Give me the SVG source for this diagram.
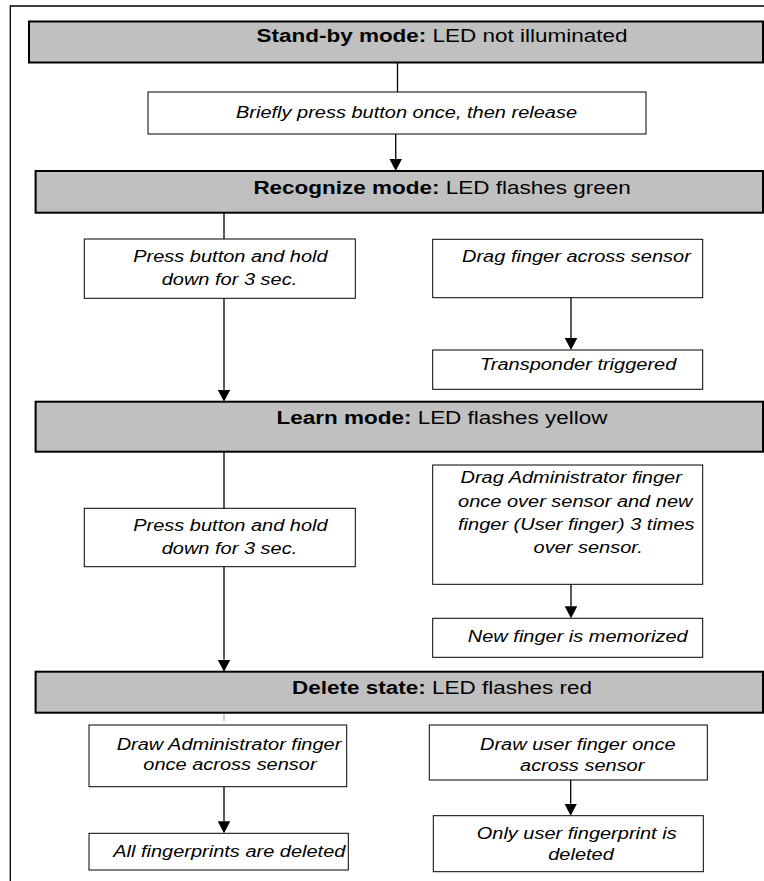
<svg xmlns="http://www.w3.org/2000/svg" width="764" height="881" viewBox="0 0 764 881">
<style>
.bg{fill:#ffffff}
.frame{fill:none;stroke:#000;stroke-width:1.3}
.hdr{fill:#c0c0c0;stroke:#000;stroke-width:2}
.box{fill:#ffffff;stroke:#000;stroke-width:1}
.conn{fill:none;stroke:#000;stroke-width:1.3}
.stub{fill:none;stroke:#999;stroke-width:1}
text{font-family:"Liberation Sans",Arial,Helvetica,sans-serif;fill:#000}
.h{font-size:18.5px}
.b{font-weight:bold}
.t{font-size:17px;font-style:italic}
</style>
<defs>
<marker id="ah" markerUnits="userSpaceOnUse" viewBox="0 0 12 12.5" markerWidth="12" markerHeight="12.5" refX="0" refY="6.25" orient="auto">
<path d="M0,0 L12,6.25 L0,12.5 Z" fill="#000"/>
</marker>
</defs>
<rect class="bg" x="0" y="0" width="764" height="881"/>
<path class="frame" d="M764,6 H10.3 V881"/>

<g id="connectors">
<line class="conn" x1="397.5" y1="62.5" x2="397.5" y2="92"/>
<line class="conn" x1="395.7" y1="134" x2="395.7" y2="159" marker-end="url(#ah)"/>
<line class="conn" x1="224" y1="212.7" x2="224" y2="239"/>
<line class="conn" x1="224" y1="298.3" x2="224" y2="389.7" marker-end="url(#ah)"/>
<line class="conn" x1="571" y1="297.7" x2="571" y2="338" marker-end="url(#ah)"/>
<line class="conn" x1="224" y1="451.7" x2="224" y2="508.3"/>
<line class="conn" x1="224" y1="566.7" x2="224" y2="659.7" marker-end="url(#ah)"/>
<line class="conn" x1="571" y1="584.3" x2="571" y2="606.3" marker-end="url(#ah)"/>
<line class="stub" x1="224" y1="714" x2="224" y2="721"/>
<line class="conn" x1="224" y1="786.7" x2="224" y2="821.3" marker-end="url(#ah)"/>
<line class="conn" x1="570.7" y1="780" x2="570.7" y2="803.7" marker-end="url(#ah)"/>
</g>

<g id="standby">
<rect class="hdr" x="29" y="21.5" width="734" height="41"/>
<text class="h" transform="scale(1.216,1)" x="363.5" y="42.3" text-anchor="middle"><tspan class="b">Stand-by mode:</tspan> LED not illuminated</text>
</g>
<g id="press-once">
<rect class="box" x="148" y="92" width="498" height="42"/>
<text class="t" transform="scale(1.176,1)" x="200.7" y="118.5">Briefly press button once, then release</text>
</g>
<g id="recognize">
<rect class="hdr" x="35.6" y="171" width="727.4" height="41.7"/>
<text class="h" transform="scale(1.216,1)" x="363.5" y="194" text-anchor="middle"><tspan class="b">Recognize mode:</tspan> LED flashes green</text>
</g>
<g id="press-hold-1">
<rect class="box" x="84.3" y="239" width="271" height="59.3"/>
<text class="t" transform="scale(1.176,1)" x="113.3" y="261.7">Press button and hold</text>
<text class="t" transform="scale(1.176,1)" x="137.5" y="285">down for 3 sec.</text>
</g>
<g id="drag-finger">
<rect class="box" x="432.7" y="239.3" width="270" height="58.4"/>
<text class="t" transform="scale(1.176,1)" x="392.9" y="261.7">Drag finger across sensor</text>
</g>
<g id="transponder">
<rect class="box" x="432.7" y="350" width="270" height="39.3"/>
<text class="t" transform="scale(1.176,1)" x="408.2" y="370.5">Transponder triggered</text>
</g>
<g id="learn">
<rect class="hdr" x="35.6" y="401.7" width="727.4" height="50"/>
<text class="h" transform="scale(1.216,1)" x="363.5" y="424" text-anchor="middle"><tspan class="b">Learn mode:</tspan> LED flashes yellow</text>
</g>
<g id="press-hold-2">
<rect class="box" x="84.3" y="508.3" width="271" height="58.4"/>
<text class="t" transform="scale(1.176,1)" x="113.3" y="531">Press button and hold</text>
<text class="t" transform="scale(1.176,1)" x="137.5" y="554.3">down for 3 sec.</text>
</g>
<g id="drag-admin">
<rect class="box" x="432.7" y="465" width="270" height="119.3"/>
<text class="t" transform="scale(1.176,1)" x="391.6" y="483.3">Drag Administrator finger</text>
<text class="t" transform="scale(1.176,1)" x="389.5" y="506.7">once over sensor and new</text>
<text class="t" transform="scale(1.176,1)" x="389.5" y="530">finger (User finger) 3 times</text>
<text class="t" transform="scale(1.176,1)" x="453.7" y="553.3">over sensor.</text>
</g>
<g id="memorized">
<rect class="box" x="432.7" y="618.3" width="270" height="39"/>
<text class="t" transform="scale(1.176,1)" x="397.8" y="642">New finger is memorized</text>
</g>
<g id="delete">
<rect class="hdr" x="35.6" y="671.7" width="727.4" height="41"/>
<text class="h" transform="scale(1.216,1)" x="363.5" y="694" text-anchor="middle"><tspan class="b">Delete state:</tspan> LED flashes red</text>
</g>
<g id="draw-admin">
<rect class="box" x="89" y="725" width="257.7" height="61.7"/>
<text class="t" transform="scale(1.176,1)" x="99.2" y="750">Draw Administrator finger</text>
<text class="t" transform="scale(1.176,1)" x="121.9" y="770">once across sensor</text>
</g>
<g id="all-deleted">
<rect class="box" x="89" y="833.3" width="259.3" height="36.7"/>
<text class="t" transform="scale(1.176,1)" x="96.3" y="856.7">All fingerprints are deleted</text>
</g>
<g id="draw-user">
<rect class="box" x="429.3" y="725" width="278" height="55"/>
<text class="t" transform="scale(1.176,1)" x="408.2" y="750">Draw user finger once</text>
<text class="t" transform="scale(1.176,1)" x="442.2" y="771">across sensor</text>
</g>
<g id="user-deleted">
<rect class="box" x="433.3" y="815.7" width="270" height="56"/>
<text class="t" transform="scale(1.176,1)" x="405.4" y="839">Only user fingerprint is</text>
<text class="t" transform="scale(1.176,1)" x="466.2" y="860">deleted</text>
</g>
</svg>
